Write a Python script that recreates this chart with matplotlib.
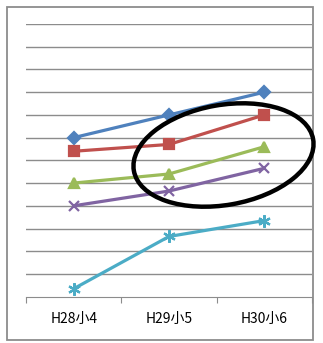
import matplotlib.pyplot as plt
import numpy as np
from matplotlib.patches import Ellipse, Rectangle

plt.rcParams['font.family'] = ['Noto Sans CJK JP', 'DejaVu Sans']

# school year / grade
labels = ['H28小4', 'H29小5', 'H30小6']
s1 = [7.0, 8.0, 9.0]
s2 = [6.4, 6.7, 8.0]
s3 = [5.0, 5.4, 6.6]
s4 = [4.0, 4.65, 5.65]
s5 = [0.35, 2.65, 3.35]

series = [
    (s1, '#4F81BD', 'D', 6),
    (s2, '#C0504D', 's', 6.5),
    (s3, '#9BBB59', '^', 7.5),
    (s4, '#8064A2', 'x', 7.5),
    (s5, '#4BACC6', (6, 2, 0), 9),
]

fig = plt.figure(figsize=(3.23, 3.43), dpi=100)
ax = fig.add_axes([26/323, 1 - 296.7/343, 286/323, (296.7 - 24)/343])

x = np.arange(len(labels)) + 0.5
for vals, col, mk, ms in series:
    ax.plot(x, vals, color=col, lw=2.3, marker=mk, ms=ms, mew=1.6,
            mfc=col, mec=col, zorder=3)

ax.set_xlim(0, 3)
ax.set_ylim(0, 12)
ax.set_yticks(np.arange(1, 13))
ax.yaxis.grid(True, color='#8c8c8c', lw=1)
ax.tick_params(axis='y', left=False, labelleft=False)
ax.set_xticks([0, 1, 2, 3])
ax.set_xticks(x, minor=True)
ax.set_xticklabels([])
ax.set_xticklabels(labels, minor=True, fontsize=10)
ax.tick_params(axis='x', which='major', length=4, color='#8c8c8c')
ax.tick_params(axis='x', which='minor', length=0, pad=11)
for side in ['top', 'right', 'left']:
    ax.spines[side].set_visible(False)
ax.spines['bottom'].set_color('#8c8c8c')
ax.set_axisbelow(True)

# highlight circle around the upper-right lines
ell = Ellipse((2.235, 1.88), 1.82, 1.0, angle=10, fill=False, lw=3.2,
              ec='black', transform=fig.dpi_scale_trans, zorder=5)
fig.add_artist(ell)

# outer chart border
fig.add_artist(Rectangle((7/323, 3/343), 306/323, 333/343, fill=False,
                         ec='#8c8c8c', lw=1.3, transform=fig.transFigure))

fig.savefig('out.png', dpi=100)
